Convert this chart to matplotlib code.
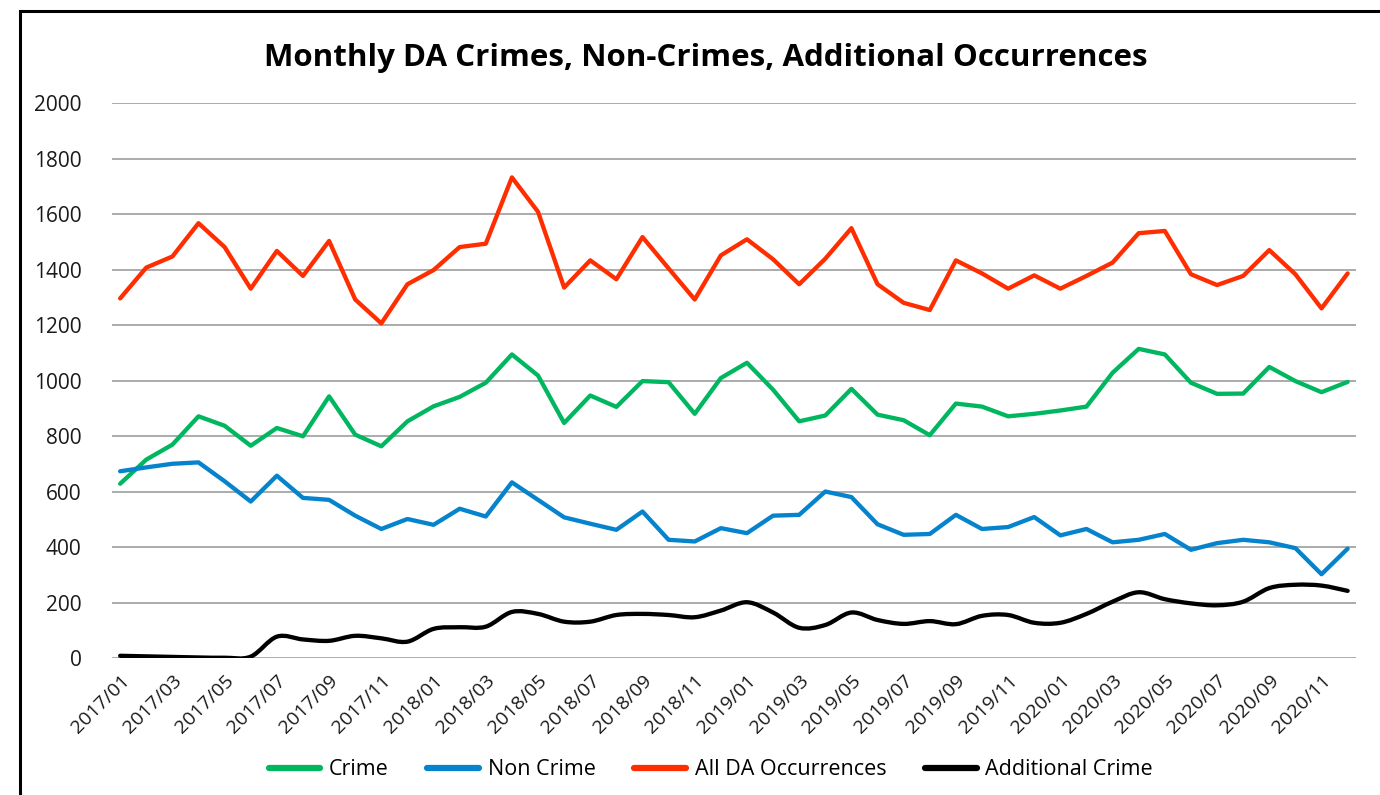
import matplotlib
matplotlib.use("Agg")
import matplotlib.pyplot as plt
from matplotlib.path import Path
from matplotlib.patches import PathPatch, Rectangle
from matplotlib.lines import Line2D
import numpy as np
import pandas as pd

months = pd.date_range("2017-01", periods=48, freq="MS").strftime("%Y/%m").tolist()

crime = [628, 715, 769, 871, 837, 765, 829, 799, 943, 805, 763, 853,
         907, 941, 992, 1094, 1018, 847, 946, 905, 998, 994, 880, 1009,
         1064, 967, 853, 874, 970, 877, 857, 803, 917, 906, 871, 880,
         892, 906, 1028, 1114, 1094, 992, 952, 953, 1049, 998, 958, 995]
non_crime = [673, 687, 700, 705, 637, 564, 657, 577, 570, 513, 465, 501,
             480, 538, 510, 633, 570, 507, 484, 462, 528, 426, 420, 468,
             450, 513, 516, 600, 580, 482, 444, 447, 516, 465, 472, 508,
             442, 465, 417, 426, 447, 390, 414, 426, 417, 396, 302, 394]
all_da = [1296, 1407, 1447, 1567, 1481, 1331, 1467, 1377, 1503, 1292, 1206, 1347,
          1398, 1481, 1493, 1732, 1608, 1335, 1433, 1365, 1517, 1404, 1292, 1451,
          1509, 1437, 1347, 1439, 1549, 1347, 1280, 1254, 1433, 1386, 1331, 1379,
          1331, 1377, 1425, 1531, 1539, 1383, 1344, 1377, 1470, 1383, 1260, 1386]
additional = [8, 6, 4, 2, 1, 5, 77, 67, 62, 80, 71, 59,
              105, 111, 113, 166, 159, 131, 131, 155, 159, 155, 147, 171,
              201, 164, 109, 119, 164, 137, 123, 133, 122, 152, 155, 127,
              127, 159, 203, 237, 212, 197, 190, 203, 252, 264, 261, 242]

series = [("Crime", crime, "#00B760", False),
          ("Non Crime", non_crime, "#0583CC", False),
          ("All DA Occurrences", all_da, "#FF2E00", False),
          ("Additional Crime", additional, "#000000", True)]

plt.rcParams["font.family"] = ["Open Sans", "DejaVu Sans"]


def smooth_path(xs, ys):
    # excel-style smoothed line: cubic bezier through every point
    pts = np.column_stack([xs, ys]).astype(float)
    n = len(pts)
    verts = [pts[0]]
    codes = [Path.MOVETO]
    for i in range(n - 1):
        p0 = pts[max(i - 1, 0)]
        p1 = pts[i]
        p2 = pts[i + 1]
        p3 = pts[min(i + 2, n - 1)]
        c1 = p1 + (p2 - p0) / 6.0
        c2 = p2 - (p3 - p1) / 6.0
        verts += [c1, c2, p2]
        codes += [Path.CURVE4] * 3
    return Path(verts, codes)


fig = plt.figure(figsize=(13.8, 7.95), dpi=100)
ax = fig.add_axes([0.0812, 0.1723, 0.9014, 0.6981])

x = np.arange(len(months))
handles = []
for name, vals, col, smooth in series:
    if smooth:
        ax.add_patch(PathPatch(smooth_path(x, vals), fill=False, edgecolor=col,
                               lw=3.1, capstyle="round", joinstyle="round", zorder=3))
    else:
        ax.plot(x, vals, color=col, lw=3.1, solid_capstyle="round",
                solid_joinstyle="round", zorder=3)
    handles.append(Line2D([], [], color=col, lw=4.5, solid_capstyle="round", label=name))

ax.set_xlim(-0.31, 47.32)
ax.set_ylim(0, 2000)
ax.set_yticks(range(0, 2001, 200))
ax.yaxis.grid(True, color="#A5A5A5", lw=1.3)
ax.set_axisbelow(True)
for s in ax.spines.values():
    s.set_visible(False)
ax.tick_params(axis="both", length=0, colors="#1a1a1a")
ax.tick_params(axis="y", pad=22, labelsize=15)

ax.set_xticks(x[::2])
ax.set_xticklabels(months[::2], rotation=45, ha="right", rotation_mode="anchor",
                   fontsize=14)
ax.tick_params(axis="x", pad=10)

fig.text(0.5115, 0.927, "Monthly DA Crimes, Non-Crimes, Additional Occurrences",
         ha="center", va="center", fontsize=22.5, fontweight="bold")

fig.legend(handles=handles, loc="center", bbox_to_anchor=(0.515, 0.032), ncol=4,
           frameon=False, fontsize=15.5, handlelength=2.4, handletextpad=0.4,
           columnspacing=1.8)

fig.patches.append(Rectangle((19.5 / 1380, -0.05), 1.1, 1.05 - 11 / 795,
                             transform=fig.transFigure, fill=False,
                             edgecolor="black", lw=2.2, clip_on=False))

fig.savefig("out.png", dpi=100)
